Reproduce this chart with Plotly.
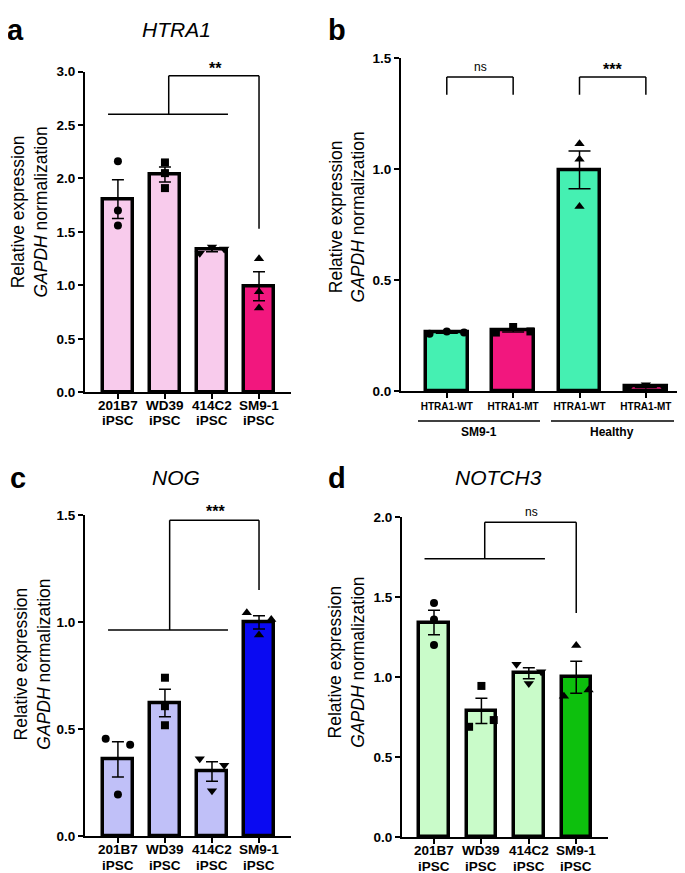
import numpy as np
import plotly.graph_objects as go

# ---- data ----
names_iPSC = ["201B7", "WD39", "414C2", "SM9-1"]
cell_type = "iPSC"
lines_b = ["HTRA1-WT", "HTRA1-MT", "HTRA1-WT", "HTRA1-MT"]
groups_b = ["SM9-1", "Healthy"]

htra1_201B7 = [2.16, 1.70, 1.56]
htra1_WD39 = [2.15, 2.05, 1.91]
htra1_414C2 = [1.30, 1.36, 1.34]
htra1_SM91 = [1.25, 0.94, 0.79]

b_sm91_wt = [0.26, 0.27, 0.265]
b_sm91_mt = [0.265, 0.29, 0.27]
b_healthy_wt = [1.115, 1.045, 0.832]
b_healthy_mt = [0.015, 0.03, 0.022]

nog_201B7 = [0.456, 0.195, 0.428]
nog_WD39 = [0.741, 0.608, 0.519]
nog_414C2 = [0.363, 0.213, 0.332]
nog_SM91 = [1.045, 0.941, 1.013]

notch3_201B7 = [1.463, 1.36, 1.20]
notch3_WD39 = [0.69, 0.945, 0.732]
notch3_414C2 = [1.08, 0.961, 1.033]
notch3_SM91 = [0.88, 1.197, 0.92]

# colours
pink_l, pink_d = "#F8CBEC", "#F2177E"
teal = "#45F0B2"
lav_l, blue_d = "#C0C0F8", "#0A0AF2"
green_l, green_d = "#C9FBC9", "#0DC00D"

FONT = "Liberation Sans, Arial, sans-serif"


def px(x):
    return x / 685


def py(y):
    return 1 - y / 873


fig = go.Figure()


def panel(ax, groups, colors, symbols, jit, bw, cap):
    xs = "x" if ax == 1 else "x%d" % ax
    ys = "y" if ax == 1 else "y%d" % ax
    means = [np.mean(g) for g in groups]
    sems = [np.std(g, ddof=1) / np.sqrt(len(g)) for g in groups]
    fig.add_trace(go.Bar(x=list(range(len(groups))), y=means, width=bw,
                         marker=dict(color=colors, line=dict(color="black", width=3.5)),
                         error_y=dict(type="data", array=sems, color="black",
                                      thickness=1.5, width=cap),
                         xaxis=xs, yaxis=ys, showlegend=False))
    for i, g in enumerate(groups):
        sz = 8 if symbols[i] in ("circle", "square") else 9
        fig.add_trace(go.Scatter(x=[i + j for j in jit[i]], y=g, mode="markers",
                                 marker=dict(color="black", size=sz, symbol=symbols[i]),
                                 xaxis=xs, yaxis=ys, showlegend=False, cliponaxis=False))


J0 = [0, 0, 0]
JS = [-0.26, 0, 0.26]
sym_iPSC = ["circle", "square", "triangle-down", "triangle-up"]

panel(1, [htra1_201B7, htra1_WD39, htra1_414C2, htra1_SM91],
      [pink_l, pink_l, pink_l, pink_d], sym_iPSC, [J0, J0, JS, J0], 0.62, 6)
panel(2, [b_sm91_wt, b_sm91_mt, b_healthy_wt, b_healthy_mt],
      [teal, pink_d, teal, pink_d], ["circle", "square", "triangle-up", "triangle-down"],
      [JS, JS, J0, JS], 0.63, 11)
panel(3, [nog_201B7, nog_WD39, nog_414C2, nog_SM91],
      [lav_l, lav_l, lav_l, blue_d], sym_iPSC, [JS, J0, JS, JS], 0.62, 6)
panel(4, [notch3_201B7, notch3_WD39, notch3_414C2, notch3_SM91],
      [green_l, green_l, green_l, green_d], sym_iPSC, [J0, JS, JS, JS], 0.62, 6)

tickfont = dict(family=FONT, size=13.5, color="black", weight="bold")


def xax(dom, rng, anchor, text=None, size=10):
    d = dict(domain=dom, range=rng, tickvals=[0, 1, 2, 3], anchor=anchor,
             showline=True, linecolor="black", linewidth=2, ticks="outside",
             ticklen=5, tickwidth=1.5, tickcolor="black", showgrid=False,
             zeroline=False)
    if text is None:
        d["showticklabels"] = False
    else:
        d["ticktext"] = text
        d["tickfont"] = dict(tickfont, size=size)
    return d


def yax(dom, top, anchor):
    return dict(domain=dom, range=[0, top], dtick=0.5, tickformat=".1f",
                showline=True, linecolor="black", linewidth=2, ticks="outside",
                ticklen=5, tickwidth=2, tickcolor="black", showgrid=False,
                zeroline=False, tickfont=tickfont, anchor=anchor)


fig.update_layout(
    width=685, height=873, margin=dict(l=0, r=0, t=0, b=0),
    plot_bgcolor="white", paper_bgcolor="white", bargap=0,
    xaxis=xax([px(77), px(283)], [-0.70, 3.68], "y"),
    yaxis=yax([py(384), py(57.5)], 3.0, "x"),
    xaxis2=xax([px(393), px(683)], [-0.69, 3.68], "y2", lines_b, 10),
    yaxis2=yax([py(383), py(44)], 1.5, "x2"),
    xaxis3=xax([px(77), px(283)], [-0.70, 3.68], "y3"),
    yaxis3=yax([py(835.7), py(509)], 1.5, "x3"),
    xaxis4=xax([px(394), px(600)], [-0.675, 3.67], "y4"),
    yaxis4=yax([py(836.7), py(510.7)], 2.0, "x4"),
)

# two-line category labels, tighter than plotly's own <br> spacing
for xr, y1, y2 in [("x", 397, 413), ("x3", 849, 865.5), ("x4", 850, 866.5)]:
    for i, name in enumerate(names_iPSC):
        for yy, t in [(y1, name), (y2, cell_type)]:
            fig.add_annotation(x=i, xref=xr, y=py(yy), yref="paper", text=t,
                               showarrow=False, xanchor="center", yanchor="middle",
                               font=dict(tickfont))

# significance brackets
line = dict(color="black", width=1.5)


def bracket(xr, yr, pts):
    for (x0, y0), (x1, y1) in zip(pts[:-1], pts[1:]):
        fig.add_shape(type="line", x0=x0, y0=y0, x1=x1, y1=y1, xref=xr, yref=yr, line=line)


bracket("x", "y", [(-0.21, 2.60), (2.34, 2.60)])
bracket("x", "y", [(1.08, 2.60), (1.08, 2.96), (3.0, 2.96), (3.0, 1.53)])
bracket("x3", "y3", [(-0.21, 0.964), (2.34, 0.964)])
bracket("x3", "y3", [(1.1, 0.964), (1.1, 1.477), (3.0, 1.477), (3.0, 1.151)])
bracket("x4", "y4", [(-0.2, 1.739), (2.34, 1.739)])
bracket("x4", "y4", [(1.07, 1.739), (1.07, 1.967), (3.0, 1.967), (3.0, 1.40)])
bracket("x2", "y2", [(0, 1.336), (0, 1.416), (1, 1.416), (1, 1.336)])
bracket("x2", "y2", [(2, 1.336), (2, 1.416), (3, 1.416), (3, 1.336)])

# group lines under panel b
for x0, x1 in [(410, 532), (543, 666)]:
    fig.add_shape(type="line", x0=px(x0), x1=px(x1), y0=py(413), y1=py(413),
                  xref="paper", yref="paper", line=line)


def note(x, y, text, size, weight="normal", angle=0, style="normal"):
    fig.add_annotation(x=px(x), y=py(y), xref="paper", yref="paper", text=text,
                       showarrow=False, textangle=angle, xanchor="center", yanchor="middle",
                       font=dict(family=FONT, size=size, color="black", weight=weight, style=style))


for x, y, t in [(8, 15, "a"), (329, 15, "b"), (10, 471, "c"), (329, 471, "d")]:
    note(x, y, t, 29, "bold")
for x, y, t in [(168, 15, "HTRA1"), (168, 471, "NOG"), (490, 471, "NOTCH3")]:
    note(x, y, t, 21, style="italic")

ytitle = "Relative expression<br><i>GAPDH</i> normalization"
for x, y in [(22, 201), (339, 206), (25, 661), (339, 659)]:
    note(x, y, ytitle, 17.5, angle=-90)

note(207, 54, "**", 16, "bold")
note(473, 53, "ns", 12)
note(604, 55, "***", 16, "bold")
note(207, 505, "***", 16, "bold")
note(523, 506, "ns", 12)
note(471, 424, groups_b[0], 12, "bold")
note(604, 424, groups_b[1], 12, "bold")

fig.write_html("out.html")
